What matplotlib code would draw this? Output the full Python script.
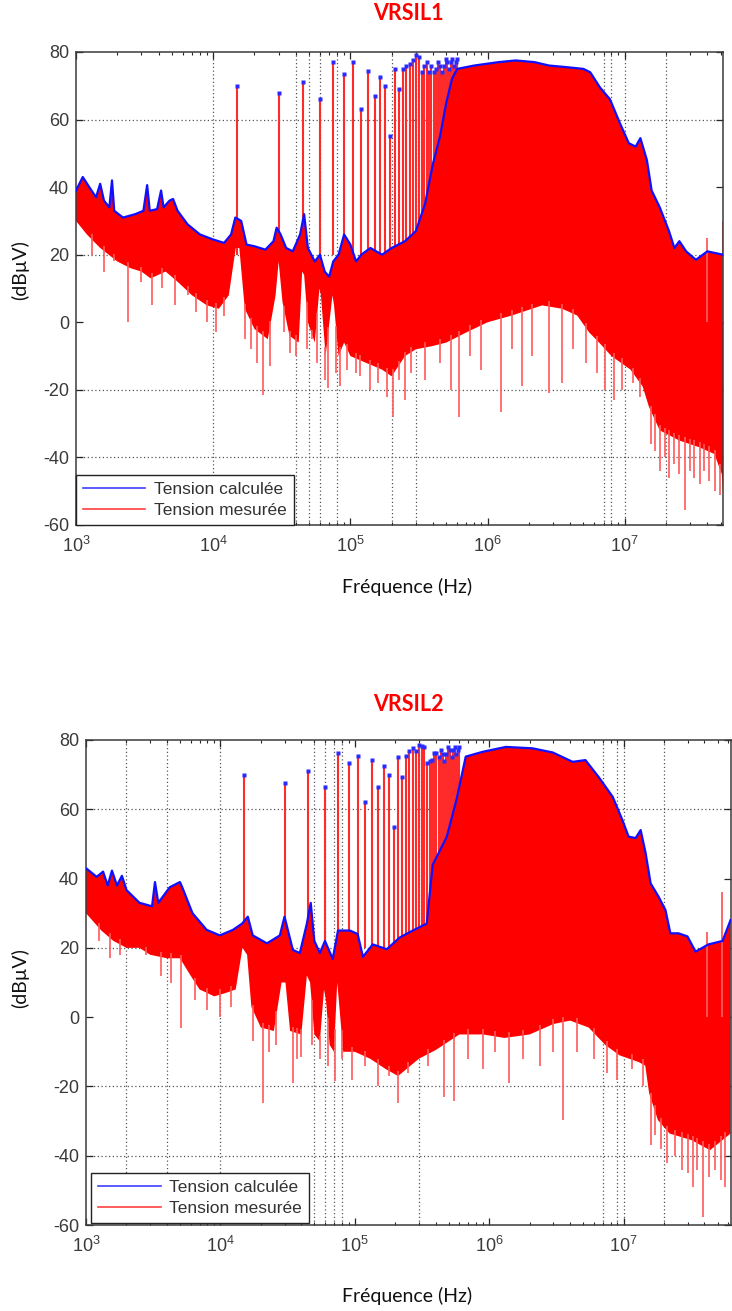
import numpy as np
import matplotlib
matplotlib.use("Agg")
import matplotlib.pyplot as plt
from matplotlib.lines import Line2D
from matplotlib.ticker import LogLocator, FixedLocator, NullFormatter

plt.rcParams['font.family'] = ['Liberation Sans', 'DejaVu Sans']
plt.rcParams['mathtext.fontset'] = 'custom'
plt.rcParams['mathtext.rm'] = 'Liberation Sans'
plt.rcParams['axes.unicode_minus'] = False

# ===================== VRSIL1 =====================
v1_env_f = [1000, 1120, 1250, 1400, 1500, 1600, 1750, 1830, 1900, 2200,
            2700, 3100, 3300, 3450, 3900, 4170, 4350, 4800, 5100, 5500,
            6500, 8000, 10000, 12000, 13500, 14500, 16000, 17500,
            20000, 24000, 27500, 29000, 31000, 34000, 38000, 43000, 46000, 49000,
            55000, 60000, 65000, 70000, 75000, 82000, 90000, 100000, 110000, 120000,
            140000, 170000, 200000, 250000, 300000, 350000, 400000, 450000, 500000, 550000,
            600000, 800000, 1.2e6, 1.6e6, 2.2e6, 2.8e6, 3.8e6, 5.0e6, 5.6e6, 6.6e6,
            7.8e6, 9.2e6, 1.07e7, 1.2e7, 1.3e7, 1.45e7, 1.57e7, 1.8e7, 2.1e7, 2.3e7,
            2.5e7, 2.8e7, 3.3e7, 4.0e7, 5.2e7]
v1_env_db = [39, 43, 40, 37, 41, 36, 34, 42, 33, 31,
             32, 33, 40.6, 33, 33.5, 39, 34, 36, 36.5, 33,
             29, 26, 24.5, 23.5, 26, 31, 30, 23,
             22.5, 21.5, 24, 28, 26, 22, 21, 26, 32, 22,
             18, 20, 15, 13.5, 18, 20, 26, 23, 18, 20,
             22, 20, 22, 24, 27, 35, 47, 55, 65, 72,
             75, 76, 77, 77.5, 77, 76, 75.5, 75, 74, 69.5,
             66, 59, 53, 52, 54.5, 48, 39, 34, 27, 22,
             24, 21, 18.5, 21, 20]
v1_bot_f = [1000, 1200, 1500, 2000, 2500, 3000, 3500, 4500, 5500, 7000,
            9000, 11000, 13000, 14600, 15500, 17000, 20000, 25000, 28500, 30000,
            32000, 36000, 42000, 44500, 46000, 49000, 55000, 59500, 61000, 66000,
            74000, 76000, 82000, 90000, 100000, 130000, 170000, 200000, 250000, 300000,
            400000, 500000, 700000, 1e6, 1.5e6, 2.5e6, 3.5e6, 4.5e6, 5.5e6, 6.5e6,
            8e6, 1.1e7, 1.35e7, 1.5e7, 1.8e7, 2.5e7, 3.5e7, 4.5e7, 5.1e7, 5.2e7]
v1_bot_db = [30, 26, 22, 18, 16, 15, 13, 15, 12, 8,
             5, 4, 8, 22, 22, 4, -2, -5, 8, 18,
             6, -4, -6, 15, 14, 0, -6, 10, 8, -10,
             8, 5, -10, -6, -10, -12, -14, -16, -10, -8,
             -7, -6, -3, 0, 2, 5, 4, 2, -3, -6,
             -10, -14, -19, -25, -32, -35, -37, -39, -45, -50]
v1_harm_khz = [15, 30, 45, 60, 75, 90, 105, 120, 135, 150,
               165, 180, 195, 210, 225, 240, 255, 270, 285, 300,
               315, 330, 345, 360, 375, 390, 405, 420, 435, 450,
               465, 480, 495, 510, 525, 540, 555, 570, 585, 600]
v1_harm_db = [70, 68, 71, 66, 77, 73.5, 77, 63, 74.5, 67,
              72.7, 70, 55, 75, 69, 75, 76, 76.5, 77.5, 79,
              78.5, 74, 76, 77, 74, 76, 74, 75, 77, 76,
              74, 76, 78, 77, 75, 77, 78, 76, 77, 78]
v1_dip_f = [1300, 1600, 1900, 2400, 3000, 3600, 4200, 5300, 6500, 7500,
            9000, 10500, 12000, 17000, 19000, 21000, 23200, 26000, 33000, 36500,
            40000, 48000, 52800, 57000, 65700, 69000, 79000, 84500, 95000, 110000,
            118000, 140000, 160000, 185000, 206000, 225000, 248000, 275000, 350000, 450000,
            540000, 614000, 750000, 900000, 1.26e6, 1.5e6, 1.77e6, 2.1e6, 2.79e6, 3.47e6,
            4.2e6, 5.2e6, 6.3e6, 7.2e6, 8.3e6, 9.5e6, 1.15e7, 1.3e7, 1.55e7, 1.65e7,
            1.8e7, 1.95e7, 2.09e7, 2.3e7, 2.5e7, 2.74e7, 3.0e7, 3.2e7, 3.52e7, 3.8e7,
            4.1e7, 4.54e7, 4.93e7]
v1_dip_db = [20, 15, 18, 0, 12, 5, 10, 5, 8, 3,
             0, -3, 2, -5, -8, -12, -21.5, -13, -3, -9,
             -10, -8, -5, -12, -17, -19.5, -15, -19, -14, -15,
             -16, -20, -18, -22, -28, -17, -23, -15, -17, -12,
             -20, -28, -10, -14, -26.5, -8, -19, -10, -21, -18,
             -8, -12, -15, -20, -23, -20, -18, -22, -36, -38,
             -44, -40, -46, -42, -45, -55.5, -44, -46, -48, -44,
             -47, -50, -51]
v1_up_f = [4.0e7, 5.2e7]
v1_up_db = [25, 30]
v1_vgrid = [1e4, 4e4, 5e4, 6e4, 8e4, 2e5, 3e5, 7e6, 8e6, 1e7, 2e7]

# ===================== VRSIL2 =====================
v2_env_f = [1000, 1200, 1340, 1450, 1560, 1700, 1850, 2000, 2500, 3100,
            3260, 3450, 4200, 5000, 5200, 6200, 7900,
            9900, 12400, 14500, 16000, 17400, 22200, 27700, 30000, 34600, 39000,
            44000, 47000, 50000, 55000, 60000, 68500, 75000, 92000, 105000, 115000,
            136000, 173000, 216000, 270000, 343000, 380000, 483000, 573000, 669000, 896000,
            1.33e6, 2.1e6, 2.97e6, 4.18e6, 5.2e6, 6.5e6, 8.3e6, 9.8e6, 1.09e7, 1.23e7,
            1.34e7, 1.46e7, 1.59e7, 1.82e7, 2.05e7, 2.23e7, 2.56e7, 2.99e7, 3.43e7, 4.28e7,
            5.45e7, 6.25e7]
v2_env_db = [43, 40.5, 42, 38, 42.3, 38, 40.8, 36.7, 33, 32,
             39, 33, 37.5, 39, 37.5, 30, 25.2,
             23.6, 25.2, 27, 29, 23.6, 21.3, 23.6, 29, 19.4, 18.5,
             27, 33, 22, 18.5, 22, 16.8, 25, 25, 24, 17.4,
             21, 19.6, 23, 25, 27, 44, 52, 63, 75.2, 76.6,
             78, 77.6, 76.4, 73.7, 74.2, 69.4, 63.6, 56.9, 52.1, 51.7,
             54, 47.3, 38.6, 34.8, 30.9, 24.2, 24.2, 23.3, 18.9, 21,
             22, 28]
v2_bot_f = [1000, 1300, 1600, 2000, 2500, 3000, 4000, 5000, 6000, 7000,
            9000, 11000, 13000, 14600, 15800, 17000, 20000, 25000, 28500, 30500,
            33000, 40000, 44000, 46500, 50000, 55000, 59000, 61000, 65000, 70000,
            74000, 76000, 82000, 100000, 130000, 170000, 210000, 300000, 400000, 600000,
            900000, 1.3e6, 2.0e6, 3.0e6, 4.0e6, 5.5e6, 7.3e6, 9.3e6, 1.3e7, 1.45e7,
            1.55e7, 1.8e7, 2.2e7, 3.2e7, 4.4e7, 6.25e7]
v2_bot_db = [30, 25, 22, 20, 20, 18, 17, 17, 12, 8,
             6, 7, 8, 20, 18, 3, -3, -4, 10, 10,
             -4, -5, 12, 10, -5, -7, 8, 5, -8, -10,
             10, 5, -10, -10, -12, -15, -17, -12, -9.5, -5,
             -5, -6, -5, -2, -1, -3, -8, -11, -13, -14,
             -22, -29.7, -33.6, -35.5, -38.4, -33.6]
v2_harm_khz = [15, 30, 45, 60, 75, 90, 105, 120, 135, 150,
               165, 180, 195, 210, 225, 240, 255, 270, 285, 300,
               315, 330, 345, 360, 375, 390, 405, 420, 435, 450,
               465, 480, 495, 510, 525, 540, 555, 570, 585, 600]
v2_harm_db = [70, 67.7, 71, 66.4, 76.2, 73.4, 75.3, 62.2, 74.3, 66.5,
              72.6, 69.8, 55, 75, 69.3, 75.4, 76.9, 77.8, 76.9, 78.7,
              78.3, 78, 73.4, 74, 74.3, 76.2, 76.2, 75, 77, 76,
              74, 76, 78, 77, 75, 77, 78, 76, 77, 78]
v2_dip_f = [1250, 1500, 1800, 2800, 3600, 4300, 5100, 6500, 8000, 10000,
            12000, 17500, 20700, 23000, 26000, 34600, 37000, 40000, 48000, 55000,
            63000, 71000, 80000, 96000, 120000, 150000, 180000, 209000, 250000, 350000,
            459000, 545000, 700000, 900000, 1.1e6, 1.4e6, 1.8e6, 2.4e6, 3.0e6, 3.52e6,
            4.5e6, 6.0e6, 7.5e6, 9.0e6, 1.15e7, 1.4e7, 1.59e7, 1.7e7, 1.9e7, 2.12e7,
            2.4e7, 2.7e7, 3.0e7, 3.26e7, 3.5e7, 3.87e7, 4.3e7, 4.8e7, 5.3e7, 5.73e7]
v2_dip_db = [22, 17, 18, 18, 12, 10, -3, 5, 2, 0,
             3, -7, -24.8, -10, -8, -19, -12, -11.5, -8, -12,
             -14, -18.4, -12, -18, -14, -20, -17, -24.8, -16, -14,
             -23, -24.3, -12, -15, -10, -19, -12, -14, -10, -29.7,
             -10, -12, -16, -18, -15, -20, -37, -34, -38, -42,
             -40, -44, -45, -49, -44, -57.6, -46, -44, -47, -49]
v2_up_f = [4.2e7, 5.4e7]
v2_up_db = [24.5, 36.2]
v2_vgrid = [2e3, 4e3, 1e4, 5e4, 6e4, 7e4, 8e4, 3e5, 7e6, 9e6, 1e7, 2e7]

hgrid = [60, 20, -20, -40]
yticks = [-60, -40, -20, 0, 20, 40, 60, 80]

W, H = 732, 1311
fig = plt.figure(figsize=(W / 100, H / 100), dpi=100)


def panel(rect, env_f, env_db, bot_f, bot_db, harm_khz, harm_db, dip_f, dip_db,
          up_f, up_db, vgrid, xmax, leg_anchor):
    ax = fig.add_axes(rect)
    ax.set_xscale('log')
    ax.set_xlim(1e3, xmax)
    ax.set_ylim(-60, 80)
    for xv in vgrid:
        ax.axvline(xv, color='#555555', lw=0.9, ls=(0, (1, 2)), zorder=0.5)
    for yv in hgrid:
        ax.axhline(yv, color='#555555', lw=0.9, ls=(0, (1, 2)), zorder=0.5)
    # dense measured spectrum (red)
    xs = list(env_f) + list(bot_f)[::-1]
    ys = list(env_db) + list(bot_db)[::-1]
    ax.fill(xs, ys, color='#ff0000', lw=0, zorder=2)
    hf = [k * 1000 for k in harm_khz]
    ax.vlines(hf, 20, harm_db, colors='#ff2a2a', lw=1.5, zorder=1.9)
    # downward spikes hang from the lower edge of the dense band
    edge = np.interp(np.log10(dip_f), np.log10(bot_f), bot_db) + 1.5
    ax.vlines(dip_f, dip_db, edge, colors='#ff5a5a', lw=1.2, zorder=2.3)
    ax.vlines(up_f, 0, up_db, colors='#ff5a5a', lw=1.3, zorder=2.3)
    # calculated (blue)
    ax.plot(env_f, env_db, color='#1010ff', lw=1.6, zorder=3)
    ax.plot(hf, harm_db, 's', ms=2.4, color='#2a2aff', mec='none', zorder=3)

    ax.yaxis.set_major_locator(FixedLocator(yticks))
    ax.xaxis.set_major_locator(LogLocator(base=10, numticks=10))
    ax.xaxis.set_minor_locator(LogLocator(base=10, subs=range(2, 10), numticks=100))
    ax.xaxis.set_minor_formatter(NullFormatter())
    ax.tick_params(which='both', direction='in', top=True, right=True,
                   color='#262626', labelcolor='#3a3a3a', labelsize=13)
    ax.tick_params(which='major', length=5, width=0.9)
    ax.tick_params(which='minor', length=2.5, width=0.8)
    ax.tick_params(axis='x', pad=8)
    ax.tick_params(axis='y', pad=5)
    for sp in ax.spines.values():
        sp.set_color('#3a3a3a')
        sp.set_linewidth(1.1)
    handles = [Line2D([], [], color='#4040ff', lw=1.2),
               Line2D([], [], color='#ff4040', lw=1.2)]
    leg = ax.legend(handles, ['Tension calculée', 'Tension mesurée'],
                    loc='lower left', bbox_to_anchor=leg_anchor, borderaxespad=0,
                    fontsize=12.5, handlelength=3.6, handletextpad=0.5,
                    labelspacing=0.35, borderpad=0.4, fancybox=False,
                    framealpha=1, edgecolor='#222222')
    leg.get_frame().set_linewidth(1.0)
    leg.set_zorder(5)
    for t in leg.get_texts():
        t.set_color('#333333')
    return ax


# top panel: axes px x 76..723, y 52..525
panel([76 / W, 1 - 525 / H, 647 / W, 473 / H],
      v1_env_f, v1_env_db, v1_bot_f, v1_bot_db, v1_harm_khz, v1_harm_db,
      v1_dip_f, v1_dip_db, v1_up_f, v1_up_db, v1_vgrid, 5.2e7, (0.0, 0.0))
# bottom panel: axes px x 86..731, y 740..1225
panel([86 / W, 1 - 1225 / H, 645 / W, 485 / H],
      v2_env_f, v2_env_db, v2_bot_f, v2_bot_db, v2_harm_khz, v2_harm_db,
      v2_dip_f, v2_dip_db, v2_up_f, v2_up_db, v2_vgrid, 6.3e7, (0.008, 0.004))

title_kw = dict(ha='center', va='center', color='#ff0000', fontsize=15.5,
                fontweight='bold', family=['Lato', 'DejaVu Sans'])
fig.text(408 / W, 1 - 14 / H, 'VRSIL1', **title_kw)
fig.text(408 / W, 1 - 704 / H, 'VRSIL2', **title_kw)

lab_kw = dict(ha='center', va='center', color='#111111', fontsize=14,
              family=['Lato', 'DejaVu Sans'])
fig.text(20 / W, 1 - 270 / H, '(dBµV)', rotation=90, **lab_kw)
fig.text(20 / W, 1 - 978 / H, '(dBµV)', rotation=90, **lab_kw)
fig.text(407 / W, 1 - 587 / H, 'Fréquence (Hz)', **lab_kw)
fig.text(407 / W, 1 - 1296 / H, 'Fréquence (Hz)', **lab_kw)

fig.savefig('out.png', dpi=100)
